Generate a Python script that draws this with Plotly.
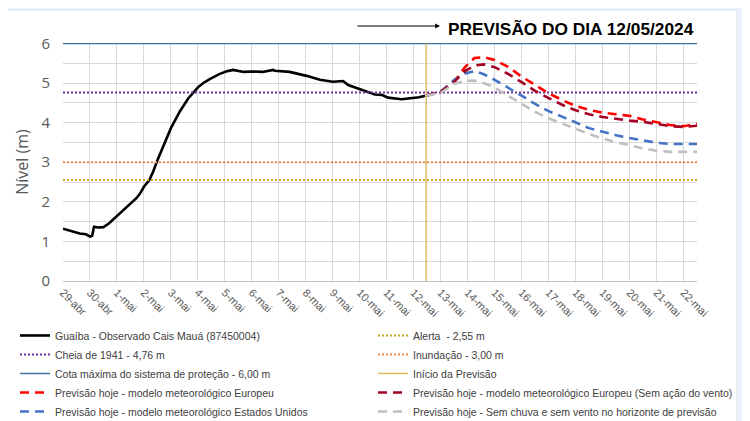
import plotly.graph_objects as go

# day index: 0 = 29-abr, 1 = 30-abr, 2 = 1-mai ... 23 = 22-mai
tick_days = list(range(24))
tick_labels = ['29-abr', '30-abr'] + ['%d-mai' % d for d in range(1, 23)]

obs_day = [0, 0.3, 0.62, 0.85, 1.0, 1.08, 1.15, 1.3, 1.5, 1.7, 2.0, 2.35, 2.72, 2.85,
           3.0, 3.2, 3.34, 3.5, 3.71, 4.0, 4.33, 4.64, 5.0, 5.2, 5.44, 5.81, 6.1, 6.3,
           6.7, 7.04, 7.4, 7.79, 7.85, 8.1, 8.4, 9.03, 9.52, 10.0, 10.38, 10.57, 11.0,
           11.3, 11.56, 11.81, 12.05, 12.55, 12.92, 13.2, 13.42]
obs_level = [1.32, 1.26, 1.20, 1.18, 1.12, 1.14, 1.37, 1.35, 1.36, 1.45, 1.64, 1.88, 2.09, 2.20,
             2.38, 2.55, 2.76, 3.05, 3.39, 3.86, 4.28, 4.61, 4.89, 5.00, 5.10, 5.23, 5.30, 5.33,
             5.28, 5.29, 5.28, 5.33, 5.31, 5.30, 5.28, 5.18, 5.08, 5.03, 5.05, 4.95, 4.84,
             4.78, 4.71, 4.70, 4.63, 4.59, 4.61, 4.64, 4.68]

prev_day = [13.46, 14.0, 14.5, 14.9, 15.25, 15.6, 16.0, 16.5, 17.0, 17.5, 18.0, 18.5,
            19.0, 19.5, 20.0, 20.5, 21.0, 21.5, 22.0, 22.5, 23.0, 23.5]
prev_europeu = [4.68, 4.78, 5.03, 5.40, 5.63, 5.65, 5.58, 5.41, 5.16, 4.95, 4.74, 4.57,
                4.42, 4.32, 4.25, 4.21, 4.17, 4.08, 4.01, 3.94, 3.91, 3.97]
prev_europeu_sv = [4.68, 4.78, 5.03, 5.30, 5.44, 5.47, 5.40, 5.23, 5.02, 4.80, 4.62, 4.45,
                   4.31, 4.21, 4.14, 4.09, 4.05, 4.02, 3.97, 3.91, 3.89, 3.92]
prev_eua = [4.68, 4.78, 5.08, 5.24, 5.30, 5.22, 5.08, 4.89, 4.68, 4.47, 4.29, 4.15,
            4.00, 3.86, 3.77, 3.68, 3.61, 3.55, 3.49, 3.46, 3.46, 3.46]
prev_sem_chuva = [4.68, 4.75, 4.98, 5.05, 5.06, 5.00, 4.88, 4.68, 4.46, 4.27, 4.11, 3.97,
                  3.84, 3.71, 3.60, 3.50, 3.43, 3.35, 3.29, 3.26, 3.26, 3.26]

alerta = 2.55
cheia_1941 = 4.76
inundacao = 3.00
cota_maxima = 6.00
inicio_previsao = 13.46

xmax = 23.5
font = 'Liberation Sans, Arial, sans-serif'
dash = '9px,6px'
dots = '2px,2px'

fig = go.Figure()

# left legend column
fig.add_trace(go.Scatter(x=obs_day, y=obs_level, mode='lines', name='Guaíba - Observado Cais Mauá (87450004)',
                         line=dict(color='black', width=2.6), legend='legend'))
fig.add_trace(go.Scatter(x=[0, xmax], y=[cheia_1941, cheia_1941], mode='lines', name='Cheia de 1941 - 4,76 m',
                         line=dict(color='#7030A0', width=2, dash=dots), legend='legend'))
fig.add_trace(go.Scatter(x=[0, xmax], y=[cota_maxima, cota_maxima], mode='lines',
                         name='Cota máxima do sistema de proteção - 6,00 m',
                         line=dict(color='#41719C', width=1.5), legend='legend'))
fig.add_trace(go.Scatter(x=prev_day, y=prev_europeu, mode='lines',
                         name='Previsão hoje - modelo meteorológico Europeu',
                         line=dict(color='#FF0000', width=2.6, dash=dash), legend='legend'))
fig.add_trace(go.Scatter(x=prev_day, y=prev_eua, mode='lines',
                         name='Previsão hoje - modelo meteorológico Estados Unidos',
                         line=dict(color='#4472C4', width=2.6, dash=dash), legend='legend'))

# right legend column
fig.add_trace(go.Scatter(x=[0, xmax], y=[alerta, alerta], mode='lines', name='Alerta  - 2,55 m',
                         line=dict(color='#D4A82A', width=2, dash=dots), legend='legend2'))
fig.add_trace(go.Scatter(x=[0, xmax], y=[inundacao, inundacao], mode='lines', name='Inundação - 3,00 m',
                         line=dict(color='#F08A4B', width=2, dash=dots), legend='legend2'))
fig.add_trace(go.Scatter(x=[inicio_previsao, inicio_previsao], y=[0, 6], mode='lines', name='Início da Previsão',
                         line=dict(color='#D9B95A', width=1.4), legend='legend2'))
fig.add_trace(go.Scatter(x=prev_day, y=prev_europeu_sv, mode='lines',
                         name='Previsão hoje - modelo meteorológico Europeu (Sem ação do vento)',
                         line=dict(color='#A50021', width=2.6, dash=dash), legend='legend2'))
fig.add_trace(go.Scatter(x=prev_day, y=prev_sem_chuva, mode='lines',
                         name='Previsão hoje - Sem chuva e sem vento no horizonte de previsão',
                         line=dict(color='#C0C0C0', width=2.6, dash=dash), legend='legend2'))

# page background and white panel
fig.add_shape(type='rect', xref='paper', yref='paper', x0=-0.0962, x1=1.063, y0=-0.6, y1=1.1387,
              fillcolor='white', line=dict(color='#DDE3EA', width=1), layer='below')

# arrow and forecast title
fig.add_annotation(xref='paper', yref='paper', x=0.5946, y=1.0714, ax=-84, ay=0, text='',
                   showarrow=True, arrowhead=2, arrowsize=0.8, arrowwidth=1.2, arrowcolor='black')
fig.add_annotation(xref='paper', yref='paper', x=0.604, y=1.058, xanchor='left', yanchor='middle',
                   text='<b>PREVISÃO DO DIA 12/05/2024</b>', showarrow=False,
                   font=dict(family=font, size=17.3, color='black'))

fig.update_xaxes(range=[0, xmax], tickvals=tick_days, ticktext=tick_labels, tickangle=45,
                 showgrid=True, gridcolor='#D9D9D9', gridwidth=1, zeroline=False,
                 showline=True, linecolor='#BFBFBF', ticks='',
                 tickfont=dict(family=font, size=11, color='#595959'))
fig.update_yaxes(range=[0, 6.01], dtick=1, showgrid=True, gridcolor='#D9D9D9', zeroline=False,
                 minor=dict(dtick=0.5, showgrid=True, gridcolor='#D9D9D9'), ticklabelstandoff=12,
                 title=dict(text='Nível (m)', font=dict(family='Open Sans, sans-serif', size=16, color='#595959'),
                            standoff=8),
                 tickfont=dict(family='Open Sans, sans-serif', size=15, color='#595959'))

legend_style = dict(orientation='v', xanchor='left', yanchor='top', itemwidth=30,
                    traceorder='normal', bgcolor='rgba(0,0,0,0)', tracegroupgap=0,
                    font=dict(family=font, size=10.5, color='#404040'))

# the page body adds an 8px offset, so margins are 8px smaller than the target layout
fig.update_layout(width=750, height=421, margin=dict(l=55, r=61, t=35, b=148, autoexpand=False),
                  paper_bgcolor='#EAF3FB', plot_bgcolor='white', showlegend=True,
                  legend=dict(x=-0.0757, y=-0.168, **legend_style),
                  legend2=dict(x=0.489, y=-0.168, **legend_style))

fig.write_html("out.html")
